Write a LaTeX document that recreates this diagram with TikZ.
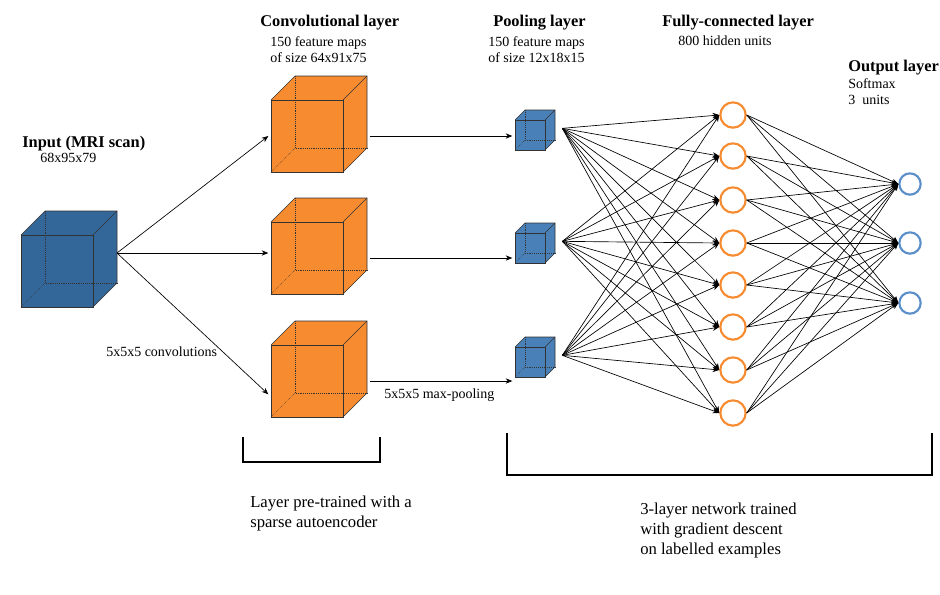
\documentclass[tikz,border=0pt]{standalone}
\usepackage{fontspec}
\setmainfont{Liberation Serif}
\usetikzlibrary{arrows.meta}
\definecolor{inblue}{HTML}{336699}
\definecolor{poolblue}{HTML}{4A80B8}
\definecolor{corange}{HTML}{F68B2F}
\definecolor{nblue}{HTML}{5B8FC9}
\newcommand\mycube[6]{% x y size depth fill name
  \begin{scope}[shift={(#1,#2)}]
    \fill[#5] (0,0) -- (#4,-#4) -- (#3+#4,-#4) -- (#3+#4,#3-#4) -- (#3,#3) -- (0,#3) -- cycle;
    \draw[black!80, line width=0.5pt] (0,0) rectangle (#3,#3);
    \draw[black!80, line width=0.5pt] (0,0) -- (#4,-#4) -- (#3+#4,-#4) -- (#3+#4,#3-#4) -- (#3,#3);
    \draw[black!80, line width=0.5pt] (#3,0) -- (#3+#4,-#4);
    \draw[black!80, line width=0.4pt, densely dotted] (#4,-#4) -- (#4,#3-#4) -- (#3+#4,#3-#4);
    \draw[black!80, line width=0.4pt, densely dotted] (#4,#3-#4) -- (0,#3);
    \coordinate (#6-in) at (0,#3/2);
    \coordinate (#6-out) at (#3,#3/2);
  \end{scope}}
\tikzset{
  arr/.style={-{Stealth[length=5pt,width=4pt]}, line width=0.5pt},
  hid/.style={circle, draw=corange, line width=1.6pt, minimum size=19pt, inner sep=0pt},
  outn/.style={circle, draw=nblue, line width=1.6pt, minimum size=16pt, inner sep=0pt},
  lbl/.style={anchor=north west, inner sep=0pt, font=\fontsize{10.5}{12}\selectfont, align=left},
  hd/.style={anchor=north west, inner sep=0pt, font=\fontsize{12.3}{13}\selectfont\bfseries},
  big/.style={anchor=north west, inner sep=0pt, font=\fontsize{12.5}{15}\selectfont, align=left},
  brk/.style={line width=2.2pt}
}
\begin{document}
\begin{tikzpicture}[x=0.75pt,y=-0.75pt]
\useasboundingbox (0,0) rectangle (940,594);
\mycube{21}{235}{72}{24}{inblue}{in}
\mycube{271}{100}{72}{24}{corange}{c1}
\mycube{271}{222}{72}{24}{corange}{c2}
\mycube{271}{345}{72}{24}{corange}{c3}
\mycube{515}{120}{30}{10}{poolblue}{p1}
\mycube{515}{233}{30}{10}{poolblue}{p2}
\mycube{515}{347}{30}{10}{poolblue}{p3}
\coordinate (src) at (117,253);
\draw[arr] (src) -- ([xshift=-2pt]c1-in);
\draw[arr] (src) -- ([xshift=-2pt]src -| c2-in);
\draw[arr] (src) -- ([xshift=-2pt,yshift=-10pt]c3-in);
\foreach \i in {1,2,3}
  \draw[arr] ([xshift=20pt]c\i-out) -- ([xshift=-2pt]c\i-out -| p\i-in);
\foreach \y [count=\i] in {115,156,200,243,285,327,370,413}
  \node[hid] (h\i) at (733,\y) {};
\foreach \y [count=\i] in {184,243,303}
  \node[outn] (o\i) at (910,\y) {};
\foreach \p in {1,2,3}
  \foreach \h in {1,...,8}
    \draw[arr] ([xshift=13pt,yshift=5pt]p\p-out) -- (h\h.west);
\foreach \h in {1,...,8}
  \foreach \o in {1,2,3}
    \draw[arr] (h\h.east) -- (o\o.west);
\draw[brk] (243,437) -- (243,462) -- (380,462) -- (380,437);
\draw[brk] (507,433) -- (507,475) -- (932,475) -- (932,433);
\node[hd] (t1) at (260,15) {Convolutional layer};
\node[lbl] (t2) at (270,36) {150 feature maps\\of size 64x91x75};
\node[hd] (t3) at (22,136) {Input (MRI scan)};
\node[lbl] (t4) at (40,153) {68x95x79};
\node[hd] (t5) at (493,15) {Pooling layer};
\node[lbl] (t6) at (488,36) {150 feature maps\\of size 12x18x15};
\node[hd] (t7) at (662,15) {Fully-connected layer};
\node[lbl] (t8) at (678,36) {800 hidden units};
\node[hd] (t9) at (848,60) {Output layer};
\node[lbl] (t10) at (848,78) {Softmax\\3\ \ units};
\node[lbl] (t11) at (106,347) {5x5x5 convolutions};
\node[lbl] (t12) at (384,389) {5x5x5 max-pooling};
\node[big] (t13) at (250,496) {Layer pre-trained with a\\sparse autoencoder};
\node[big] (t14) at (640,503) {3-layer network trained\\with gradient descent\\on labelled examples};
\end{tikzpicture}
\end{document}
